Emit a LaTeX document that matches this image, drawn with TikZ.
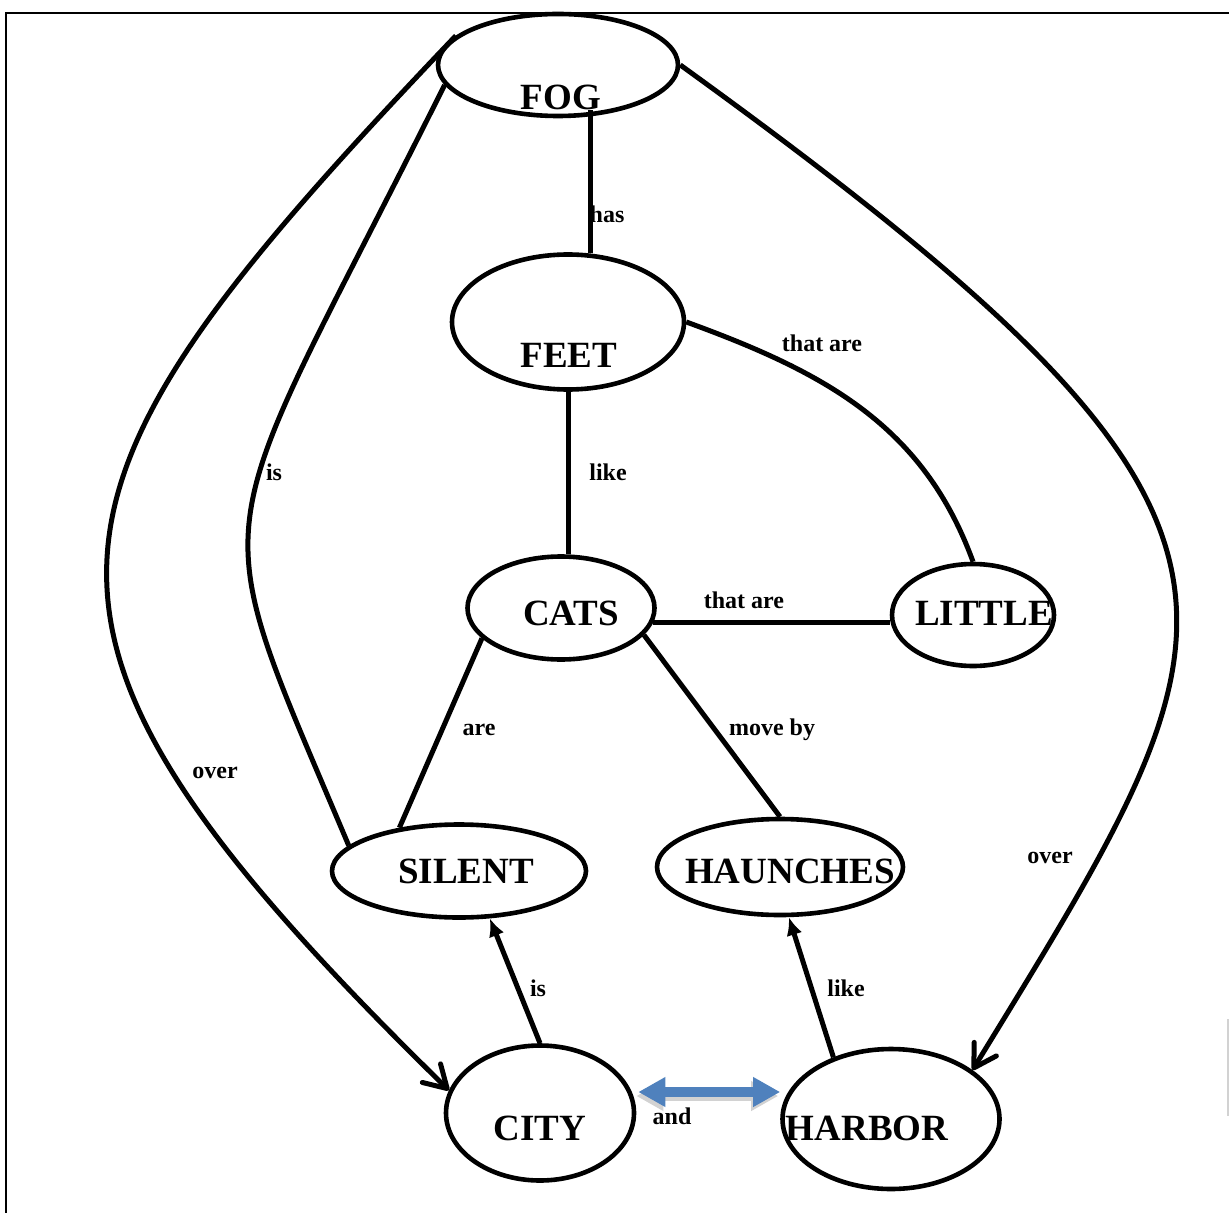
\documentclass[tikz,border=0pt]{standalone}
\usepackage{fontspec}
\setmainfont{Liberation Serif}
\usetikzlibrary{shapes.geometric,arrows.meta}
\definecolor{andblue}{RGB}{79,129,189}
\tikzset{
  blob/.style={ellipse, draw, line width=2.3pt, inner sep=0pt},
  word/.style={font=\fontsize{18.5}{20}\selectfont\bfseries, inner sep=0pt},
  tag/.style={font=\fontsize{12}{14}\selectfont\bfseries, inner sep=0pt},
  link/.style={line width=2.5pt},
  openhead/.style={link, -{Straight Barb[length=11pt,width=13pt,round]}},
  solidhead/.style={link, -{Latex[length=9pt,width=8pt]}},
  bluehead/.style={line width=5pt, {Triangle[length=13.5pt,width=14pt]}-{Triangle[length=13.5pt,width=14pt]}},
}
\begin{document}
\begin{tikzpicture}[x=0.5pt,y=-0.5pt]
    \useasboundingbox (0,0) rectangle (1229,1213);

    % Cornice in alto e a sinistra
    \draw[line width=1pt] (1229,13) -- (6,13) -- (6,1213);
    \draw[gray!35, line width=1pt] (1228,1019) -- (1228,1116);

    % Ellissi
    \node[blob, minimum width=120pt, minimum height=51pt] (fog) at (558,65) {};
    \node[blob, minimum width=116pt, minimum height=67.5pt] (feet) at (568,322) {};
    \node[blob, minimum width=93.5pt, minimum height=51.5pt] (cats) at (561,608) {};
    \node[blob, minimum width=81pt, minimum height=51pt] (little) at (973,615) {};
    \node[blob, minimum width=127pt, minimum height=46.5pt] (silent) at (459,871) {};
    \node[blob, minimum width=123pt, minimum height=48pt] (haunches) at (780,867) {};
    \node[blob, minimum width=94pt, minimum height=67.5pt] (city) at (540,1113) {};
    \node[blob, minimum width=108.5pt, minimum height=70pt] (harbor) at (891,1119) {};

    % Parole dentro le ellissi
    \node[word] (fogword) at (561,97) {FOG};
    \node[word] (feetword) at (569,355) {FEET};
    \node[word] (catsword) at (571,613) {CATS};
    \node[word] (littleword) at (984,613) {LITTLE};
    \node[word] (silentword) at (466,871) {SILENT};
    \node[word] (haunchesword) at (790,871) {HAUNCHES};
    \node[word] (cityword) at (540,1128) {CITY};
    \node[word] (harborword) at (867,1128) {HARBOR};

    % Linee dritte
    \draw[link] (feet.72) -- (feet.72 |- fogword.south);
    \draw[link] (feet.south) -- (feet.south |- cats.north);
    \draw[link] (cats.-9) -- (cats.-9 -| little.west);
    \draw[link] (cats.201) -- (silent.144);
    \draw[link] (cats.-18) -- (haunches.north);

    % Linee curve
    \draw[link] (feet.east) to [out=-20, in=110] (little.north);
    \draw[link] (fog.190) .. controls +(-240,480) and +(-150,-356) .. (silent.167);
    \draw[openhead] (fog.164) .. controls +(-440,462) and +(-480,-470) .. (city.166);
    \draw[openhead] (fog.east) .. controls +(640,462) and +(279,-456) .. (harbor.31);

    % Frecce piene
    \draw[solidhead] (city.north) -- (silent.-57);
    \draw[solidhead] (harbor.133) -- (haunches.-80);

    % Doppia freccia blu con ombra
    \draw[bluehead, gray!35] ([shift={(0,-17)}]city.east) -- ([shift={(-2,-23)}]harbor.west);
    \draw[bluehead, andblue] ([shift={(2,-21)}]city.east) -- ([shift={(0,-27)}]harbor.west);

    % Etichette
    \node[tag] (has) at (607,214) {has};
    \node[tag] (thatare1) at (822,343) {that are};
    \node[tag] (like1) at (608,472) {like};
    \node[tag] (is1) at (274,472) {is};
    \node[tag] (thatare2) at (744,600) {that are};
    \node[tag] (are) at (479,730) {are};
    \node[tag] (moveby) at (772,730) {move by};
    \node[tag] (over1) at (215,773) {over};
    \node[tag] (over2) at (1050,858) {over};
    \node[tag] (is2) at (538,988) {is};
    \node[tag] (like2) at (846,988) {like};
    \node[tag] (and) at (672,1116) {and};
\end{tikzpicture}
\end{document}
